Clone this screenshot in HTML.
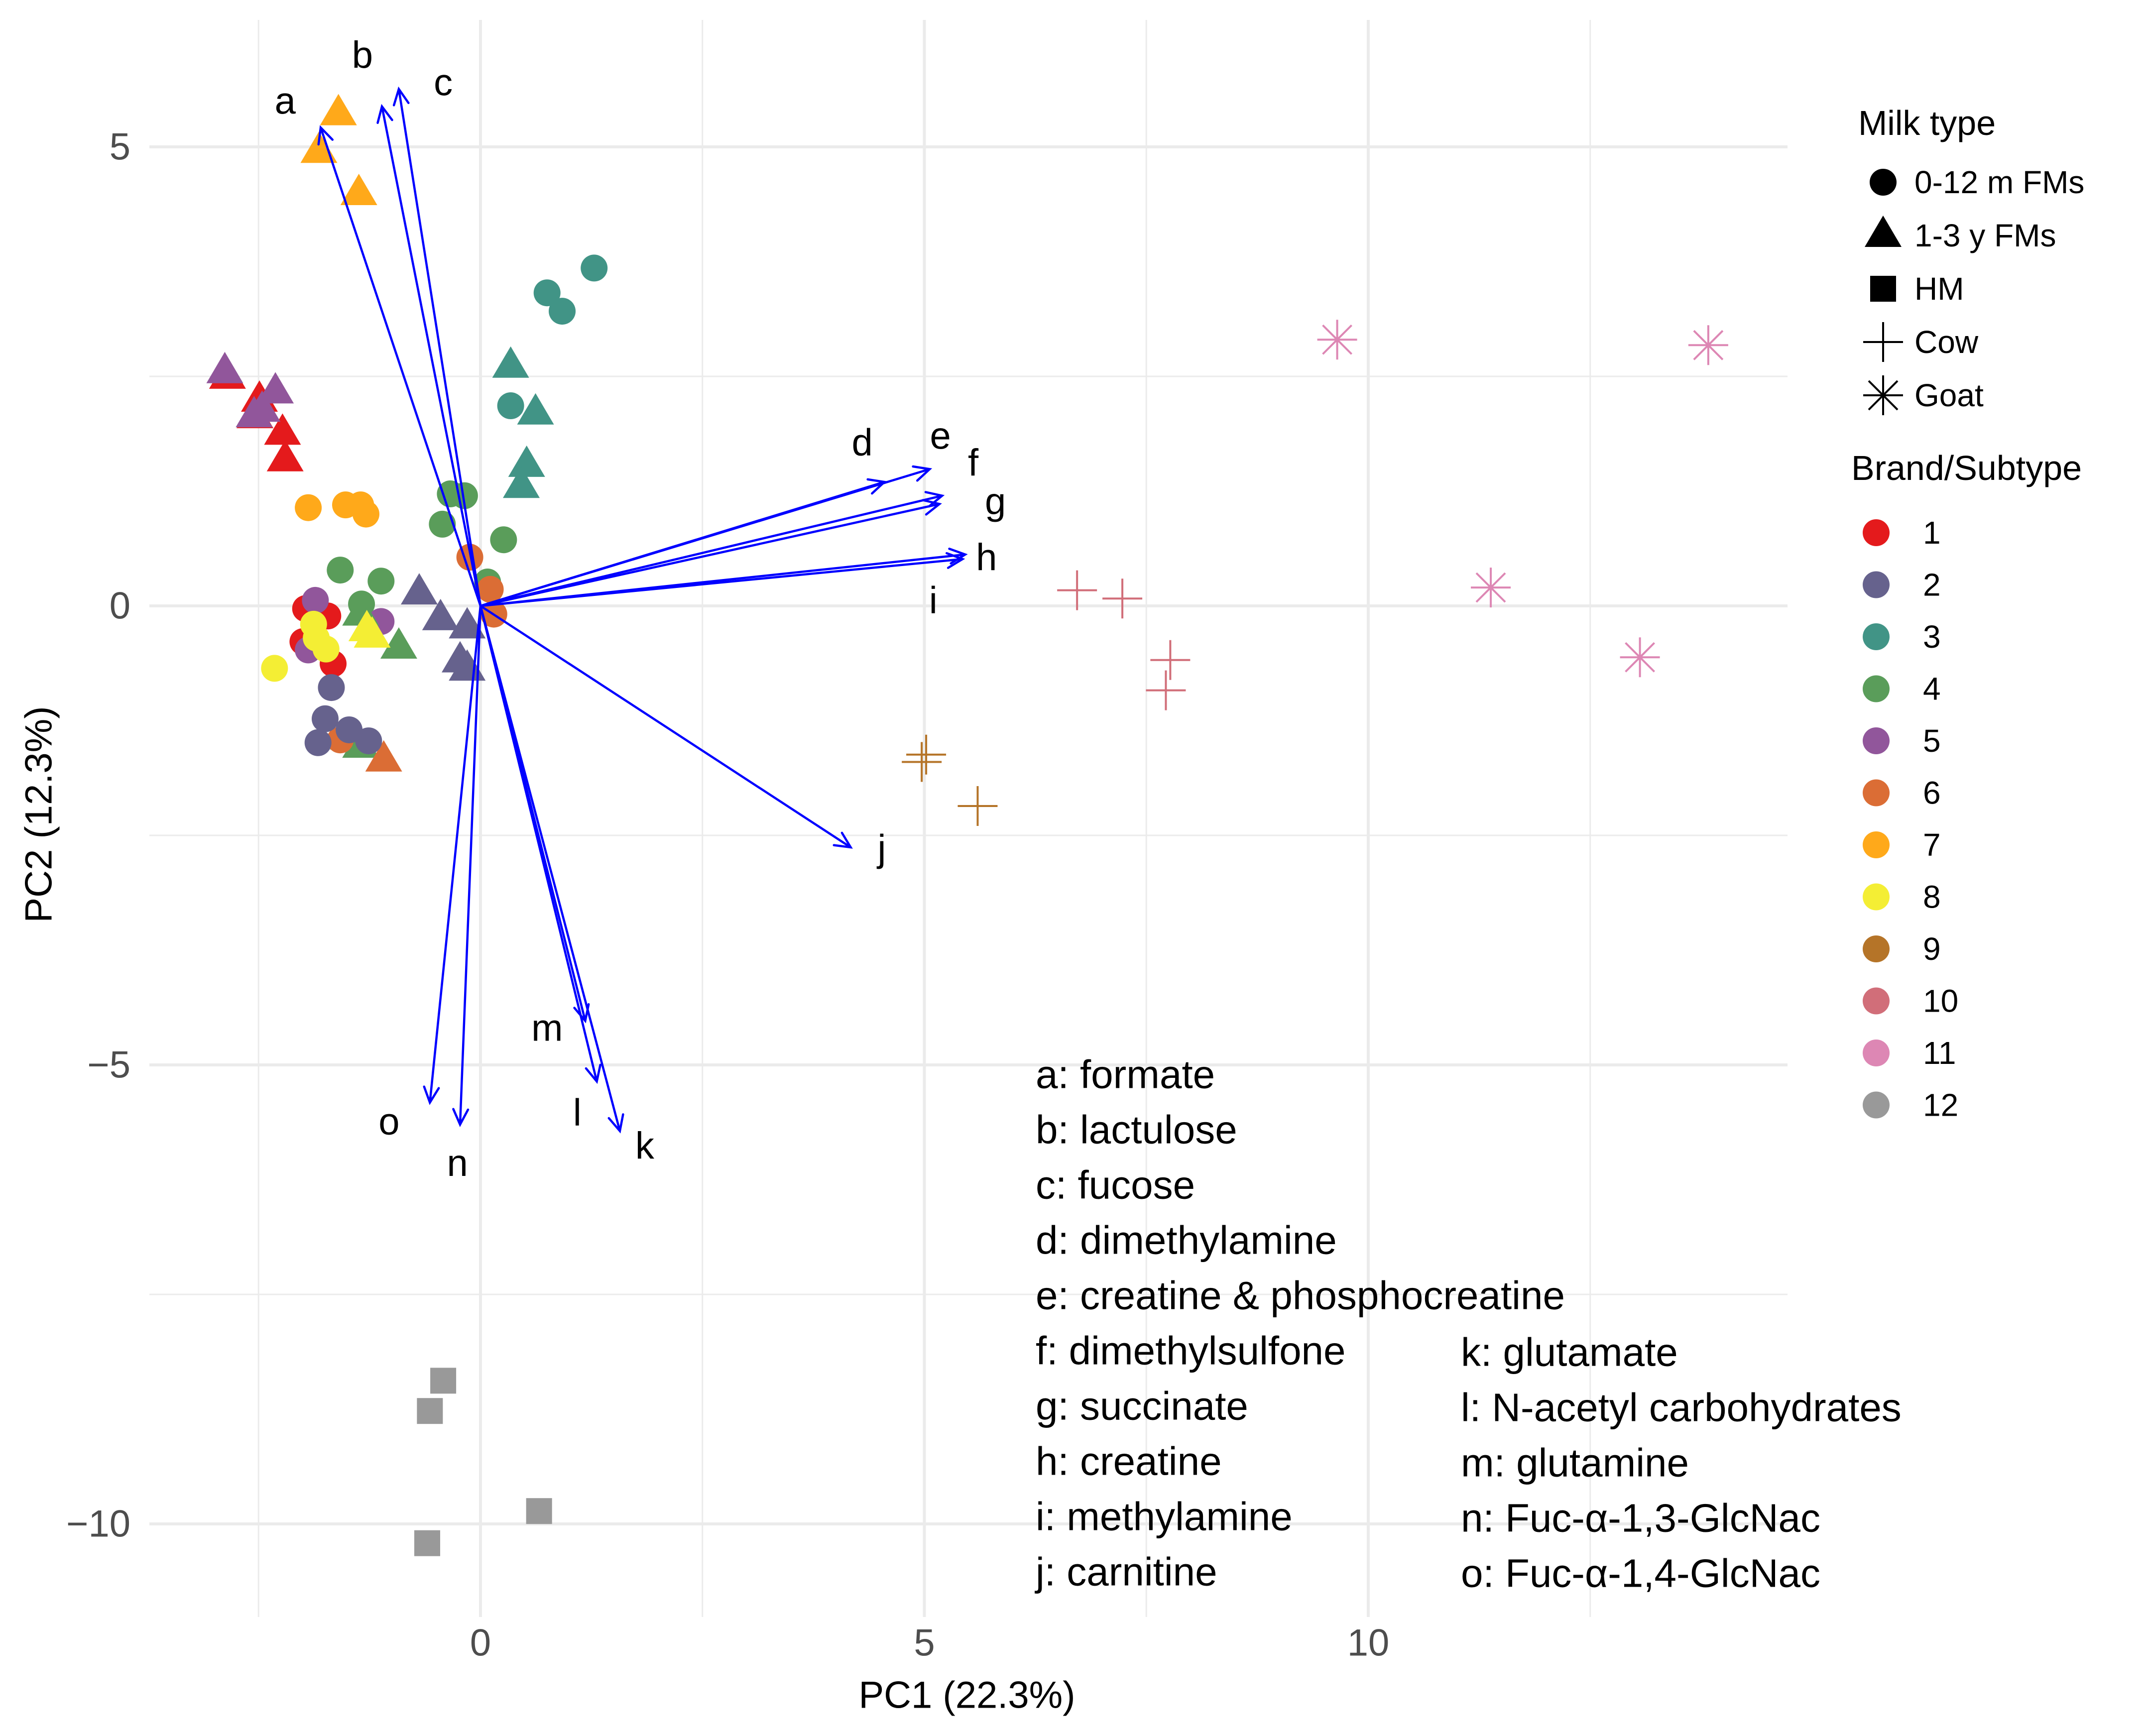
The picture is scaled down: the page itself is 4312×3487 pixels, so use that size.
<!DOCTYPE html>
<html><head><meta charset="utf-8"><style>
html,body{margin:0;padding:0;background:#fff;}
svg{display:block;font-family:"Liberation Sans",Arial,sans-serif;}
</style></head><body>
<svg id="chart" width="4312" height="3487" viewBox="0 0 4312 3487" xmlns="http://www.w3.org/2000/svg">
<g id="grid"></g>
<g id="points"></g>
<g id="arrows"></g>
<g id="axes"></g>
<g id="notes"></g>
<g id="legend"></g>
</svg>
<script>
const xTicks=[0,5,10];
const yTicks=[5,0,-5,-10];
const xMinor=[-2.5,2.5,7.5,12.5];
const yMinor=[2.5,-2.5,-7.5];
const colors=["#E41A1C","#66628D","#419486","#5A9D5A","#91569B","#DB6D35","#FFA91A","#F4EE34","#B57428","#D16E79","#DD87B4","#999999"];
const pc1=[-1.6,-1.82,-1.37,1.28,0.75,0.92,0.34,0.62,0.52,0.46,0.34,-2.85,-2.49,-2.23,-2.2,-2.54,-2.88,-2.31,-2.46,-2.55,-1.94,-1.52,-1.35,-1.29,-0.34,-0.18,-0.43,0.26,-1.58,-1.12,-1.34,0.08,-0.12,0.11,0.15,-1.97,-1.72,-2.0,-1.66,-1.86,-1.94,-1.12,-1.88,-1.85,-1.74,-2.32,-1.35,-0.92,-1.49,-1.35,-1.28,-1.22,-0.69,-0.45,-0.15,-0.23,-0.15,-1.09,-1.58,-1.68,-1.75,-1.48,-1.26,-1.83,6.72,7.23,7.77,7.72,5.02,4.97,5.6,9.65,13.83,11.38,13.06,-0.42,-0.57,0.66,-0.6];
const pc2=[5.36,4.95,4.49,3.68,3.41,3.21,2.61,2.1,1.53,1.3,2.18,2.49,2.24,1.88,1.59,2.06,2.55,2.33,2.13,2.07,1.07,1.1,1.1,1.0,1.22,1.2,0.89,0.72,0.39,0.27,0.02,0.26,0.53,0.18,-0.09,-0.03,-0.11,-0.39,-0.63,0.06,-0.48,-0.17,-0.2,-0.35,-0.47,-0.68,-0.09,-0.45,-1.44,-1.53,-0.26,-0.33,0.14,-0.14,-0.23,-0.6,-0.69,-1.68,-1.46,-0.89,-1.23,-1.35,-1.47,-1.49,0.17,0.08,-0.59,-0.92,-1.62,-1.7,-2.18,2.9,2.84,0.2,-0.56,-8.44,-8.77,-9.86,-10.21];
// c=circle t=triangle s=square p=plus a=asterisk
const shapes=["ttt","ccc","tttt","c","ttttt","tttt","cccc","cccccccc","ccc","cccc","ccc","cccc","tttt","tt","ttttt","t","c","ccccc","pppp","ppp","aaaa","ssss"].join("");
const brands=[7,7,7,3,3,3,3,3,3,3,3,1,1,1,1,1,5,5,5,5,7,7,7,7,4,4,4,4,4,4,4,4,6,6,6,1,1,1,1,5,5,5,8,8,8,8,4,4,4,4,8,8,2,2,2,2,2,6,6,2,2,2,2,2,10,10,10,10,9,9,9,11,11,11,11,12,12,12,12];
const loadNames=["a","b","c","d","e","f","g","h","i","j","k","l","m","n","o"];
const loadX=[-1.8,-1.11,-0.92,4.55,5.06,5.2,5.17,5.46,5.43,4.17,1.57,1.31,1.18,-0.23,-0.57];
const loadY=[5.21,5.44,5.63,1.35,1.49,1.2,1.11,0.56,0.51,-2.63,-5.72,-5.18,-4.52,-5.65,-5.41];
const labX=[-2.2,-1.33,-0.42,4.3,5.18,5.55,5.8,5.7,5.1,4.52,1.85,1.09,0.75,-0.26,-1.03];
const labY=[5.5,6.0,5.7,1.78,1.85,1.56,1.14,0.53,0.06,-2.64,-5.88,-5.52,-4.6,-6.07,-5.62];
const noteText1=["a: formate","b: lactulose","c: fucose","d: dimethylamine","e: creatine & phosphocreatine","f: dimethylsulfone","g: succinate","h: creatine","i: methylamine","j: carnitine"];
const noteText2=["k: glutamate","l: N-acetyl carbohydrates","m: glutamine","n: Fuc-\u03b1-1,3-GlcNac","o: Fuc-\u03b1-1,4-GlcNac"];

const NS="http://www.w3.org/2000/svg";
const X0=965,XS=178.3,Y0=1217,YS=184.4;
const PL=300,PR=3590,PT=40,PB=3248;
const sx=v=>X0+v*XS, sy=v=>Y0-v*YS;
function mk(parent,tag,attrs,text){const e=document.createElementNS(NS,tag);for(const k in attrs)e.setAttribute(k,attrs[k]);if(text!==undefined)e.textContent=text;parent.appendChild(e);return e;}
const G=id=>document.getElementById(id);

const grid=G("grid");
xMinor.forEach(v=>{const l=mk(grid,"line",{x1:sx(v),x2:sx(v),y1:PT,y2:PB,stroke:"#EBEBEB","stroke-width":3});

});
yMinor.forEach(v=>{const l=mk(grid,"line",{x1:PL,x2:PR,y1:sy(v),y2:sy(v),stroke:"#EBEBEB","stroke-width":3});

});
xTicks.forEach(v=>{const l=mk(grid,"line",{x1:sx(v),x2:sx(v),y1:PT,y2:PB,stroke:"#EBEBEB","stroke-width":6});

});
yTicks.forEach(v=>{const l=mk(grid,"line",{x1:PL,x2:PR,y1:sy(v),y2:sy(v),stroke:"#EBEBEB","stroke-width":6});

});

function drawShape(g,s,cx,cy,col,name){
  let e;
  if(s==="c") e=mk(g,"circle",{cx:cx,cy:cy,r:27,fill:col});
  else if(s==="t") e=mk(g,"polygon",{points:`${cx},${cy-40} ${cx-37},${cy+23} ${cx+37},${cy+23}`,fill:col});
  else if(s==="s") e=mk(g,"rect",{x:cx-26,y:cy-26,width:52,height:52,fill:col});
  else if(s==="p") e=mk(g,"path",{d:`M${cx-40},${cy}H${cx+40}M${cx},${cy-40}V${cy+40}`,stroke:col,"stroke-width":4,fill:"none"});
  else e=mk(g,"path",{d:`M${cx-40},${cy}H${cx+40}M${cx},${cy-40}V${cy+40}M${cx-29},${cy-29}L${cx+29},${cy+29}M${cx-29},${cy+29}L${cx+29},${cy-29}`,stroke:col,"stroke-width":4,fill:"none"});
  
  
  return e;
}
const pts=G("points");
for(let i=0;i<pc1.length;i++){
  drawShape(pts,shapes[i],sx(pc1[i]),sy(pc2[i]),colors[brands[i]-1],"sample-point");
}

const ar=G("arrows");
for(let i=0;i<loadNames.length;i++){
  const x1=sx(0),y1=sy(0),x2=sx(loadX[i]),y2=sy(loadY[i]);
  const ang=Math.atan2(y2-y1,x2-x1),L=34,a=0.45;
  const p1=[x2-L*Math.cos(ang-a),y2-L*Math.sin(ang-a)],p2=[x2-L*Math.cos(ang+a),y2-L*Math.sin(ang+a)];
  const p=mk(ar,"path",{d:`M${x1},${y1}L${x2},${y2}M${p1[0]},${p1[1]}L${x2},${y2}L${p2[0]},${p2[1]}`,stroke:"#0000FF","stroke-width":4.5,fill:"none","stroke-linecap":"round"});
  
  
  const t=mk(ar,"text",{x:sx(labX[i]),y:sy(labY[i]),"font-size":76,"text-anchor":"middle","dominant-baseline":"central",fill:"#000"},loadNames[i]);
  
  
}

const ax=G("axes");
xTicks.forEach(v=>{const t=mk(ax,"text",{x:sx(v),y:3300,"font-size":76,"text-anchor":"middle","dominant-baseline":"central",fill:"#4D4D4D"},String(v));

});
yTicks.forEach(v=>{const t=mk(ax,"text",{x:262,y:sy(v),"font-size":76,"text-anchor":"end","dominant-baseline":"central",fill:"#4D4D4D"},v<0?"\u2212"+(-v):String(v));

});
const xt=mk(ax,"text",{x:1942,y:3405,"font-size":76,"text-anchor":"middle","dominant-baseline":"central",fill:"#000"},"PC1 (22.3%)");


const yt=mk(ax,"text",{x:0,y:0,"font-size":76,"text-anchor":"middle","dominant-baseline":"central",fill:"#000",transform:"translate(78,1636) rotate(-90)"},"PC2 (12.3%)");



const nt=G("notes");
noteText1.forEach((s,i)=>{const t=mk(nt,"text",{x:2080,y:2158+i*111,"font-size":80,"dominant-baseline":"central",fill:"#000"},s);

});
noteText2.forEach((s,i)=>{const t=mk(nt,"text",{x:2934,y:2716+i*111,"font-size":80,"dominant-baseline":"central",fill:"#000"},s);

});

const lg=G("legend");
const lt1=mk(lg,"text",{x:3732,y:247,"font-size":70,"dominant-baseline":"central",fill:"#000"},"Milk type");


const milkShapes=["c","t","s","p","a"], milkLabels=["0-12 m FMs","1-3 y FMs","HM","Cow","Goat"];
milkShapes.forEach((s,i)=>{const cy=366+i*107;
  drawShape(lg,s,3782,cy,"#000","legend-milk-symbol");
  const t=mk(lg,"text",{x:3845,y:cy,"font-size":64,"dominant-baseline":"central",fill:"#000"},milkLabels[i]);
  
  });
const lt2=mk(lg,"text",{x:3718,y:940,"font-size":70,"dominant-baseline":"central",fill:"#000"},"Brand/Subtype");


colors.forEach((c,i)=>{const cy=1070+i*104.5;
  const d=mk(lg,"circle",{cx:3768,cy:cy,r:27,fill:c});
  
  
  const t=mk(lg,"text",{x:3862,y:cy,"font-size":64,"dominant-baseline":"central",fill:"#000"},String(i+1));
  
  });
</script>
</body></html>
